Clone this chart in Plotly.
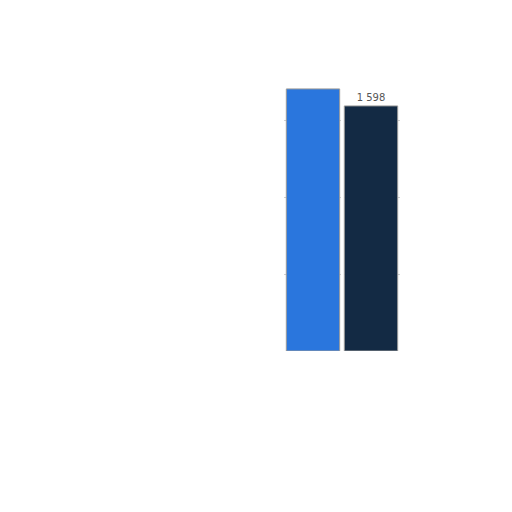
import plotly.graph_objects as go

categories = ["A", "B"]
values = [1709, 1598]
labels = ["", "1 598"]
bar_colors = ["#2a76dd", "#132a44"]

fig = go.Figure()
fig.add_trace(
    go.Bar(
        x=categories,
        y=values,
        text=labels,
        textposition="outside",
        cliponaxis=False,
        textfont=dict(family="DejaVu Sans", size=10, color="#555555"),
        marker=dict(color=bar_colors, line=dict(color="#9a9a9a", width=1)),
        showlegend=False,
    )
)

fig.update_layout(
    width=512,
    height=512,
    margin=dict(l=276, r=120, t=53, b=169),
    bargap=0.08,
    plot_bgcolor="white",
    paper_bgcolor="white",
)
fig.update_xaxes(visible=False)
fig.update_yaxes(
    range=[0, 1891],
    showticklabels=False,
    showline=False,
    zeroline=False,
    showgrid=True,
    gridcolor="#d0d0d0",
    griddash="dot",
    gridwidth=1,
    dtick=500,
)

fig.write_html("out.html")
